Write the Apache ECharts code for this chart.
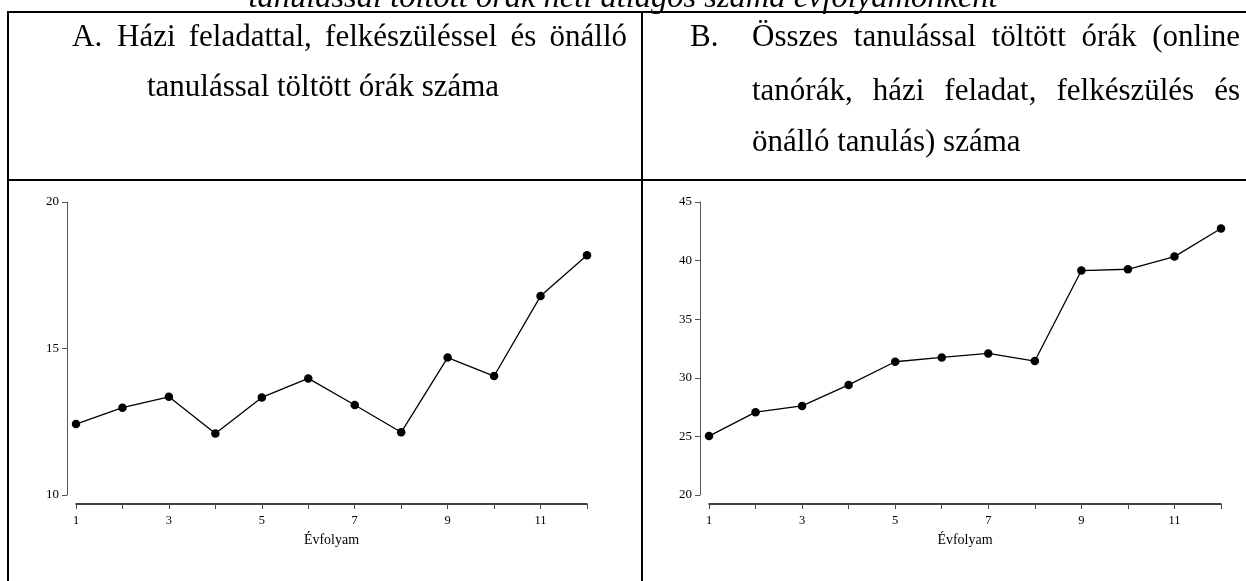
<!DOCTYPE html>
<html>
<head>
<meta charset="utf-8">
<script src="https://cdn.jsdelivr.net/npm/echarts@6/dist/echarts.min.js"></script>
<style>
  body { margin: 0; background: #fff; }
  #page { position: relative; width: 1246px; height: 581px; overflow: hidden; font-family: "Liberation Serif", "DejaVu Serif", serif; color: #000; }
  #chart { position: absolute; left: 0; top: 0; width: 1246px; height: 581px; }
  .ln { position: absolute; background: #000; }
  .tx { position: absolute; font-size: 31px; line-height: 31px; white-space: nowrap; }
  .jx { text-align: justify; text-align-last: justify; white-space: normal; }
</style>
</head>
<body>
<div id="page">
  <div id="chart"></div>

  <!-- table borders -->
  <div class="ln" style="left:7px;top:11px;width:1239px;height:2px"></div>
  <div class="ln" style="left:7px;top:11px;width:2px;height:570px"></div>
  <div class="ln" style="left:641px;top:11px;width:2px;height:570px"></div>
  <div class="ln" style="left:7px;top:179px;width:1239px;height:2px"></div>

  <!-- cut-off title -->
  <div class="tx" style="left:0;width:1246px;text-align:center;top:-20px;font-size:32.5px;line-height:32px;font-style:italic">tanulással töltött órák heti átlagos száma évfolyamonként</div>

  <!-- header A -->
  <div class="tx" style="left:72px;top:20px">A.</div>
  <div class="tx jx" style="left:117px;top:20px;width:510px">Házi feladattal, felkészüléssel és önálló</div>
  <div class="tx" style="left:147px;top:70px">tanulással töltött órák száma</div>

  <!-- header B -->
  <div class="tx" style="left:690px;top:20px">B.</div>
  <div class="tx jx" style="left:752px;top:20px;width:488px">Összes tanulással töltött órák (online</div>
  <div class="tx jx" style="left:752px;top:74px;width:488px">tanórák, házi feladat, felkészülés és</div>
  <div class="tx" style="left:752px;top:125px">önálló tanulás) száma</div>
</div>

<script>
  // Évfolyam 1..12
  const grades = ['1', '2', '3', '4', '5', '6', '7', '8', '9', '10', '11', '12'];
  // A: házi feladat, felkészülés, önálló tanulás (óra/hét)
  const homeworkHours = [12.42, 12.98, 13.35, 12.10, 13.33, 13.98, 13.07, 12.14, 14.69, 14.06, 16.79, 18.18];
  // B: összes tanulás (óra/hét)
  const totalHours = [25.03, 27.07, 27.60, 29.39, 31.37, 31.74, 32.08, 31.43, 39.15, 39.26, 40.34, 42.74];
  // y tick labels
  const yTicksA = [10, 15, 20];
  const yTicksB = [20, 25, 30, 35, 40, 45];

  const serif = '"Liberation Serif", "DejaVu Serif", serif';

  function xAxisCfg(gridIndex) {
    return {
      gridIndex: gridIndex,
      type: 'category',
      data: grades,
      boundaryGap: false,
      offset: 9,
      axisLine: { lineStyle: { color: '#000', width: 1.5 } },
      axisTick: { interval: 0, length: 5, lineStyle: { color: '#444' } },
      axisLabel: { interval: 1, fontSize: 12.5, color: '#000', margin: 10, fontFamily: serif },
      splitLine: { show: false },
      name: 'Évfolyam',
      nameLocation: 'middle',
      nameGap: 29,
      nameTextStyle: { fontSize: 14, color: '#000', fontFamily: serif }
    };
  }

  function yAxisCfg(gridIndex, ticks) {
    return {
      gridIndex: gridIndex,
      type: 'value',
      min: ticks[0],
      max: ticks[ticks.length - 1],
      interval: ticks[1] - ticks[0],
      offset: 9,
      axisLine: { show: true, lineStyle: { color: '#555', width: 1 } },
      axisTick: { show: true, length: 5, lineStyle: { color: '#555' } },
      axisLabel: { fontSize: 13, color: '#000', margin: 8, fontFamily: serif },
      splitLine: { show: false }
    };
  }

  function lineSeries(idx, data) {
    return {
      type: 'line',
      xAxisIndex: idx,
      yAxisIndex: idx,
      data: data,
      symbol: 'circle',
      symbolSize: 8.5,
      itemStyle: { color: '#000' },
      lineStyle: { color: '#000', width: 1.3 },
      animation: false
    };
  }

  let myChart = echarts.init(document.getElementById('chart'));
  let option = {
    animation: false,
    grid: [
      { left: 76, top: 202, width: 511, height: 293 },
      { left: 709, top: 202, width: 512, height: 293 }
    ],
    xAxis: [xAxisCfg(0), xAxisCfg(1)],
    yAxis: [yAxisCfg(0, yTicksA), yAxisCfg(1, yTicksB)],
    series: [lineSeries(0, homeworkHours), lineSeries(1, totalHours)]
  };
  myChart.setOption(option);
</script>
</body>
</html>
